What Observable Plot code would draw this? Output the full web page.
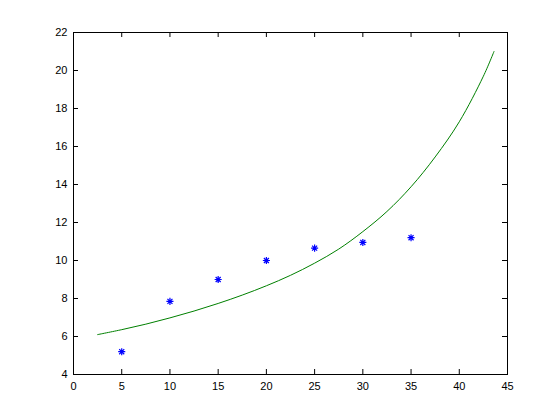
<!DOCTYPE html>
<html>
<head>
<meta charset="utf-8">
<script src="https://cdn.jsdelivr.net/npm/d3@7"></script>
<script src="https://cdn.jsdelivr.net/npm/@observablehq/plot@0.6"></script>
<style>
  html, body { margin: 0; padding: 0; background: #ffffff; }
  #chart svg { display: block; }
</style>
</head>
<body>
<div id="chart"></div>
<script>
// Measured data (blue asterisks)
const pointX = [5, 10, 15, 20, 25, 30, 35];
const pointY = [5.2, 7.85, 9.0, 10.0, 10.65, 10.95, 11.2];

// Fitted curve (green line)
const curveX = [2.5, 5, 7.5, 10, 12.5, 15, 17.5, 20, 22.5, 25, 27.5, 30, 32.5, 35, 37.5, 40, 42.5, 43.6];
const curveY = [6.1, 6.36, 6.65, 6.98, 7.34, 7.74, 8.18, 8.67, 9.22, 9.86, 10.6, 11.52, 12.58, 13.88, 15.45, 17.3, 19.7, 21.0];

// Axis ticks
const xTicks = [0, 5, 10, 15, 20, 25, 30, 35, 40, 45];
const yTicks = [4, 6, 8, 10, 12, 14, 16, 18, 20, 22];

const points = pointX.map((x, i) => ({x, y: pointY[i]}));
const curve = curveX.map((x, i) => ({x, y: curveY[i]}));

// MATLAB-style 8-armed asterisk symbol
const matlabStar = {
  draw(context, size) {
    const r = Math.sqrt(size) / 2;
    const d = r * Math.SQRT1_2;
    context.moveTo(-r, 0); context.lineTo(r, 0);
    context.moveTo(0, -r); context.lineTo(0, r);
    context.moveTo(-d, -d); context.lineTo(d, d);
    context.moveTo(-d, d); context.lineTo(d, -d);
  }
};

const W = 560, H = 420;
const mL = 73, mR = 53, mT = 32, mB = 46;
const innerW = W - mL - mR, innerH = H - mT - mB;
const tickLen = 5;

const chart = Plot.plot({
  width: W,
  height: H,
  marginLeft: mL,
  marginRight: mR,
  marginTop: mT,
  marginBottom: mB,
  style: {background: "#ffffff", fontFamily: "'Liberation Sans', Arial, Helvetica, sans-serif", fontSize: "11px", color: "#000"},
  x: {domain: [0, 45]},
  y: {domain: [4, 22]},
  marks: [
    Plot.frame({stroke: "#000", strokeWidth: 1}),
    // inward ticks on all four sides
    Plot.tickX(xTicks, {x: d => d, stroke: "#000", insetTop: innerH - tickLen}),
    Plot.tickX(xTicks, {x: d => d, stroke: "#000", insetBottom: innerH - tickLen}),
    Plot.tickY(yTicks, {y: d => d, stroke: "#000", insetRight: innerW - tickLen}),
    Plot.tickY(yTicks, {y: d => d, stroke: "#000", insetLeft: innerW - tickLen}),
    Plot.axisX({ticks: xTicks, tickSize: 0, tickPadding: 8, label: null, fontSize: 11, fill: "#000"}),
    Plot.axisY({ticks: yTicks, tickSize: 0, tickPadding: 6, label: null, fontSize: 11, fill: "#000"}),
    Plot.line(curve, {x: "x", y: "y", stroke: "#008000", strokeWidth: 1, curve: "catmull-rom"}),
    Plot.dot(points, {x: "x", y: "y", symbol: matlabStar, r: 4, stroke: "#0000ff", strokeWidth: 1.2, fill: "none"})
  ]
});

document.getElementById("chart").appendChild(chart);
</script>
</body>
</html>
